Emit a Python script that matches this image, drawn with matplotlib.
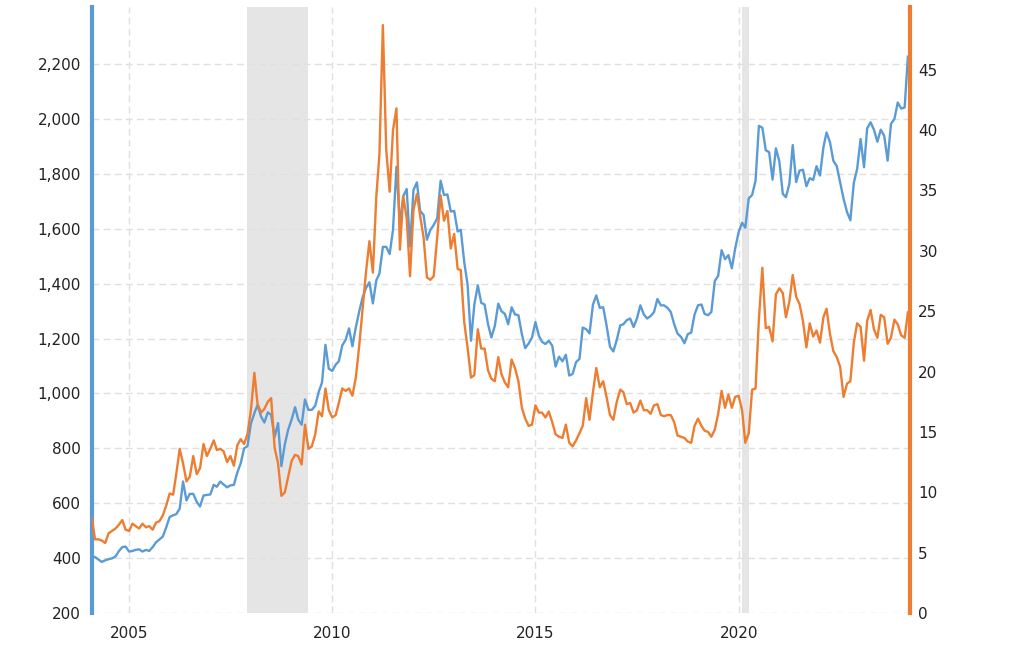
"""
Gold (left axis) vs silver (right axis) monthly prices, 2004-2024,
with US recessions shaded.
"""

import matplotlib

matplotlib.use("Agg")

import matplotlib.dates as mdates
import matplotlib.pyplot as plt
import pandas as pd
from matplotlib.ticker import FuncFormatter

# ── Data (month-end prices) ──────────────────────────────────
start_month = "2004-02-01"

gold = [
    # 2004 (Feb-Dec)
    406, 404, 395, 386, 392, 396, 399, 406, 425, 440, 442,
    # 2005
    424, 426, 430, 432, 424, 430, 426, 440, 458, 468, 479, 512,
    # 2006
    550, 556, 560, 580, 679, 610, 634, 634, 605, 588, 628, 630,
    # 2007
    632, 667, 660, 679, 668, 658, 665, 667, 712, 745, 800, 808,
    # 2008
    890, 928, 958, 916, 894, 931, 922, 841, 892, 735, 815, 868,
    # 2009
    905, 950, 905, 886, 978, 940, 940, 955, 1005, 1040, 1177, 1090,
    # 2010
    1082, 1105, 1117, 1175, 1195, 1237, 1172, 1241, 1300, 1350, 1385, 1405,
    # 2011
    1328, 1412, 1437, 1534, 1534, 1508, 1596, 1826, 1614, 1719, 1745, 1536,
    # 2012
    1741, 1769, 1665, 1650, 1560, 1596, 1614, 1638, 1775, 1723, 1725, 1663,
    # 2013
    1665, 1590, 1596, 1479, 1397, 1192, 1324, 1394, 1330, 1324, 1252, 1204,
    # 2014
    1246, 1327, 1300, 1290, 1252, 1314, 1288, 1285, 1216, 1165, 1182, 1204,
    # 2015
    1260, 1210, 1188, 1180, 1192, 1174, 1098, 1134, 1117, 1141, 1065, 1071,
    # 2016
    1114, 1126, 1240, 1234, 1219, 1324, 1357, 1312, 1314, 1248, 1170, 1153,
    # 2017
    1195, 1248, 1252, 1267, 1273, 1242, 1273, 1321, 1288, 1273, 1282, 1296,
    # 2018
    1344, 1321, 1321, 1312, 1297, 1252, 1218, 1206, 1183, 1216, 1222, 1288,
    # 2019
    1321, 1324, 1290, 1285, 1297, 1410, 1428, 1522, 1489, 1504, 1456, 1528,
    # 2020
    1588, 1622, 1604, 1711, 1723, 1775, 1975, 1968, 1886, 1879, 1779, 1893,
    # 2021
    1845, 1727, 1715, 1764, 1905, 1770, 1812, 1815, 1755, 1784, 1778, 1828,
    # 2022
    1794, 1897, 1951, 1915, 1848, 1828, 1770, 1709, 1661, 1631, 1767, 1818,
    # 2023
    1927, 1824, 1966, 1988, 1961, 1917, 1961, 1939, 1848, 1982, 2000, 2060,
    # 2024 (Jan-Mar)
    2038, 2042, 2227,
]

silver = [
    # 2004 (Feb-Dec)
    7.96, 6.1, 6.1, 6.0, 5.8, 6.6, 6.8, 7.0, 7.3, 7.7, 6.9,
    # 2005
    6.8, 7.4, 7.2, 7.0, 7.4, 7.1, 7.2, 6.9, 7.5, 7.6, 8.1, 8.9,
    # 2006
    9.9, 9.8, 11.5, 13.6, 12.4, 10.9, 11.3, 13.0, 11.5, 12.0, 14.0, 13.0,
    # 2007
    13.6, 14.3, 13.5, 13.6, 13.4, 12.5, 13.0, 12.2, 13.9, 14.4, 14.0, 14.8,
    # 2008
    16.8, 19.9, 17.3, 16.6, 16.9, 17.5, 17.8, 13.7, 12.4, 9.7, 10.0, 11.3,
    # 2009
    12.6, 13.1, 13.0, 12.3, 15.6, 13.6, 13.8, 14.8, 16.7, 16.3, 18.6, 16.8,
    # 2010
    16.2, 16.4, 17.4, 18.6, 18.4, 18.6, 18.0, 19.5, 22.2, 25.2, 28.3, 30.8,
    # 2011
    28.2, 34.5, 38.0, 48.7, 38.4, 34.9, 40.0, 41.8, 30.1, 34.5, 32.7, 27.9,
    # 2012
    33.4, 34.7, 32.9, 31.1, 27.8, 27.6, 27.9, 31.1, 34.6, 32.5, 33.3, 30.2,
    # 2013
    31.4, 28.5, 28.4, 24.1, 22.0, 19.5, 19.7, 23.5, 21.9, 21.9, 20.1, 19.4,
    # 2014
    19.2, 21.2, 19.8, 19.1, 18.7, 21.0, 20.3, 19.2, 17.0, 16.1, 15.5, 15.6,
    # 2015
    17.2, 16.6, 16.6, 16.2, 16.7, 15.8, 14.8, 14.6, 14.5, 15.6, 14.1, 13.8,
    # 2016
    14.3, 14.9, 15.5, 17.8, 16.0, 18.3, 20.3, 18.7, 19.2, 17.9, 16.4, 16.0,
    # 2017
    17.5, 18.5, 18.3, 17.3, 17.4, 16.6, 16.8, 17.6, 16.8, 16.8, 16.5, 17.2,
    # 2018
    17.3, 16.4, 16.3, 16.4, 16.4, 15.8, 14.7, 14.6, 14.5, 14.2, 14.1, 15.5,
    # 2019
    16.1, 15.5, 15.1, 15.0, 14.6, 15.2, 16.5, 18.4, 17.0, 18.1, 17.0, 17.9,
    # 2020
    18.0, 16.8, 14.1, 14.9, 18.5, 18.6, 24.3, 28.6, 23.6, 23.7, 22.5, 26.4,
    # 2021
    26.9, 26.5, 24.5, 25.8, 28.0, 26.2, 25.6, 24.2, 22.0, 24.0, 22.9, 23.4,
    # 2022
    22.4, 24.5, 25.2, 23.1, 21.7, 21.2, 20.4, 17.9, 19.0, 19.2, 22.4, 24.0,
    # 2023
    23.7, 20.9, 24.2, 25.1, 23.5, 22.8, 24.7, 24.5, 22.3, 22.8, 24.3, 23.9,
    # 2024 (Jan-Mar)
    23.0, 22.8, 24.9,
]

recession_start = ["2007-12-01", "2020-02-01"]
recession_end = ["2009-06-01", "2020-04-01"]

gold_ticks = [200, 400, 600, 800, 1000, 1200, 1400, 1600, 1800, 2000, 2200]
silver_ticks = [0, 5, 10, 15, 20, 25, 30, 35, 40, 45]
year_ticks = [2005, 2010, 2015, 2020]

assert len(gold) == len(silver)
dates = pd.date_range(start_month, periods=len(gold), freq="MS")

# ── Style ────────────────────────────────────────────────────
BLUE = "#5B9BD5"
ORANGE = "#ED7D31"
GRID = "#e0e0e0"
TEXT = "#222222"

fig = plt.figure(figsize=(10.24, 6.46), dpi=100, facecolor="white")
ax = fig.add_axes([92 / 1024, 1 - 613 / 646, 818 / 1024, 606 / 646])
ax2 = ax.twinx()

# recession bands
for s, e in zip(recession_start, recession_end):
    ax.axvspan(pd.Timestamp(s), pd.Timestamp(e), color="#e5e5e5", lw=0, zorder=0)

ax.plot(dates, gold, color=BLUE, lw=1.7, zorder=3)
ax2.plot(dates, silver, color=ORANGE, lw=1.7, zorder=3)

ax.set_xlim(pd.Timestamp("2004-02-03"), pd.Timestamp("2024-03-20"))
ax.set_ylim(200, 2408)
ax2.set_ylim(0, 50.2)

# ── Axes styling ─────────────────────────────────────────────
ax.set_yticks(gold_ticks)
ax.yaxis.set_major_formatter(FuncFormatter(lambda v, _: f"{int(v):,}"))
ax2.set_yticks(silver_ticks)
ax.set_xticks([pd.Timestamp(f"{y}-01-01") for y in year_ticks])
ax.xaxis.set_major_formatter(mdates.DateFormatter("%Y"))

ax.grid(True, color=GRID, lw=1, ls=(0, (5, 3)))
ax.set_axisbelow(True)

ax.tick_params(axis="y", length=0, pad=8, labelsize=11, labelcolor=TEXT)
ax.tick_params(axis="x", length=0, pad=9, labelsize=11, labelcolor=TEXT)
ax2.tick_params(axis="y", length=0, pad=6, labelsize=11, labelcolor=TEXT)

for a in (ax, ax2):
    a.spines["top"].set_visible(False)
    a.spines["bottom"].set_visible(False)
ax.spines["right"].set_visible(False)
ax2.spines["left"].set_visible(False)
ax.spines["left"].set_color(BLUE)
ax.spines["left"].set_linewidth(3)
ax2.spines["right"].set_color(ORANGE)
ax2.spines["right"].set_linewidth(3)

fig.savefig("out.png", dpi=100, facecolor="white")
